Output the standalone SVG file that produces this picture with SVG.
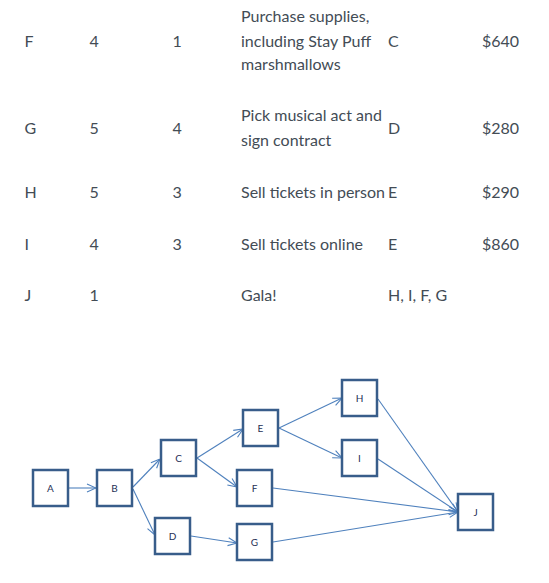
<svg xmlns="http://www.w3.org/2000/svg" width="549" height="583" viewBox="0 0 549 583">
<defs>
<style>
.t{font-family:Lato,"Liberation Sans",sans-serif;font-size:16px;fill:#434c55}
.box{fill:#fff;stroke:#385d8a;stroke-width:2.5}
.lbl{font-family:Lato,"Liberation Sans",sans-serif;font-size:10px;fill:#1f2f55;text-anchor:middle}
.c line{stroke:#4f81bd;stroke-width:1.1;fill:none}
</style>
<marker id="ah" viewBox="0 0 10 10" refX="10" refY="5" markerWidth="10" markerHeight="10" markerUnits="userSpaceOnUse" orient="auto">
<path d="M1,1 L10,5 L1,9" fill="none" stroke="#4f81bd" stroke-width="1.1"/>
</marker>
</defs>
<rect width="549" height="583" fill="#fff"/>
<g id="table">
<text class="t" x="24.5" y="46.5">F</text>
<text class="t" x="89.5" y="46.5">4</text>
<text class="t" x="172.5" y="46.5">1</text>
<text class="t" x="241" y="21.5">Purchase supplies,</text>
<text class="t" x="241" y="46.5">including Stay Puff</text>
<text class="t" x="241" y="70">marshmallows</text>
<text class="t" x="388" y="46.5">C</text>
<text class="t" x="482" y="46.5">$640</text>
<text class="t" x="24.5" y="134">G</text>
<text class="t" x="89.5" y="134">5</text>
<text class="t" x="172.5" y="134">4</text>
<text class="t" x="241" y="121">Pick musical act and</text>
<text class="t" x="241" y="145.5">sign contract</text>
<text class="t" x="388" y="134">D</text>
<text class="t" x="482" y="134">$280</text>
<text class="t" x="24.5" y="198">H</text>
<text class="t" x="89.5" y="198">5</text>
<text class="t" x="172.5" y="198">3</text>
<text class="t" x="241" y="198">Sell tickets in person</text>
<text class="t" x="388" y="198">E</text>
<text class="t" x="482" y="198">$290</text>
<text class="t" x="24.5" y="250">I</text>
<text class="t" x="89.5" y="250">4</text>
<text class="t" x="172.5" y="250">3</text>
<text class="t" x="241" y="250">Sell tickets online</text>
<text class="t" x="388" y="250">E</text>
<text class="t" x="482" y="250">$860</text>
<text class="t" x="24.5" y="301">J</text>
<text class="t" x="89.5" y="301">1</text>
<text class="t" x="241" y="301">Gala!</text>
<text class="t" x="388" y="301">H, I, F, G</text>
</g>
<g class="c" id="connectors">
<line x1="69" y1="488" x2="96" y2="488" marker-end="url(#ah)"/>
<line x1="133" y1="487" x2="160" y2="459" marker-end="url(#ah)"/>
<line x1="133" y1="489" x2="155" y2="535" marker-end="url(#ah)"/>
<line x1="197" y1="458" x2="243" y2="429" marker-end="url(#ah)"/>
<line x1="197" y1="458" x2="237" y2="487" marker-end="url(#ah)"/>
<line x1="191" y1="536" x2="237" y2="543" marker-end="url(#ah)"/>
<line x1="279" y1="428" x2="342" y2="398" marker-end="url(#ah)"/>
<line x1="279" y1="428" x2="342" y2="458" marker-end="url(#ah)"/>
<line x1="378" y1="399" x2="458" y2="512" marker-end="url(#ah)"/>
<line x1="378" y1="459" x2="458" y2="512" marker-end="url(#ah)"/>
<line x1="273" y1="488" x2="458" y2="512" marker-end="url(#ah)"/>
<line x1="273" y1="542" x2="458" y2="512" marker-end="url(#ah)"/>
</g>
<g id="A"><rect class="box" x="33" y="470" width="35" height="36"/><text class="lbl" x="50.5" y="492">A</text></g>
<g id="B"><rect class="box" x="97" y="470" width="35" height="36"/><text class="lbl" x="114.5" y="492">B</text></g>
<g id="C"><rect class="box" x="161" y="440" width="35" height="36"/><text class="lbl" x="178.5" y="462">C</text></g>
<g id="D"><rect class="box" x="155" y="518" width="35" height="36"/><text class="lbl" x="172.5" y="540">D</text></g>
<g id="E"><rect class="box" x="243" y="410" width="35" height="36"/><text class="lbl" x="260.5" y="432">E</text></g>
<g id="F"><rect class="box" x="237" y="470" width="35" height="36"/><text class="lbl" x="254.5" y="492">F</text></g>
<g id="G"><rect class="box" x="237" y="524" width="35" height="36"/><text class="lbl" x="254.5" y="546">G</text></g>
<g id="H"><rect class="box" x="342" y="380" width="35" height="36"/><text class="lbl" x="359.5" y="402">H</text></g>
<g id="I"><rect class="box" x="342" y="440" width="35" height="36"/><text class="lbl" x="359.5" y="462">I</text></g>
<g id="J"><rect class="box" x="458" y="494" width="35" height="36"/><text class="lbl" x="475.5" y="516">J</text></g>
</svg>
